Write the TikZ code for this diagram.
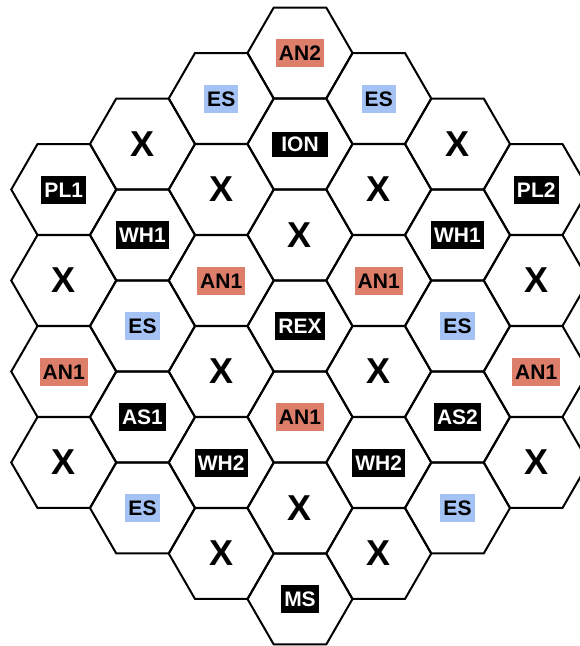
\documentclass[tikz,border=0pt]{standalone}
\usepackage{fontspec}
\setmainfont{Liberation Sans}
\usetikzlibrary{shapes.geometric}
\definecolor{anred}{HTML}{DD7E6B}
\definecolor{esblue}{HTML}{A4C2F4}
\newcommand{\cellx}[1]{63.75+78.75*(#1-1)}
\newcommand{\celly}[1]{53+45.5*#1}

\tikzset{
  cell/.style={draw, regular polygon, regular polygon sides=6, minimum size=105pt,
    inner sep=0pt, outer sep=0pt, line width=2pt},
  tag/.style={font=\bfseries\fontsize{21}{21}\selectfont, text height=15pt,
    text depth=0pt, inner xsep=3pt, inner ysep=6.5pt},
  tagdark/.style={tag, fill=black, text=white},
  tagred/.style={tag, fill=anred, text=black},
  tagblue/.style={tag, fill=esblue, text=black},
  cross/.style={font=\bfseries\fontsize{36}{36}\selectfont}
}

\begin{document}
\begin{tikzpicture}[x=1pt,y=-1pt]
  \useasboundingbox (0,0) rectangle (580,646);
  \clip (0,0) rectangle (580,646);
  % honeycomb, column by column
  \foreach \c/\rows in {1/{3,5,7,9}, 2/{2,4,6,8,10}, 3/{1,3,5,7,9,11},
      4/{0,2,4,6,8,10,12}, 5/{1,3,5,7,9,11}, 6/{2,4,6,8,10}, 7/{3,5,7,9}}{
    \foreach \r in \rows
      \node[cell] (h\c-\r) at ({\cellx{\c}}, {\celly{\r}}) {};
  }
  % black tags
  \foreach \c/\r/\txt in {1/3/PL1, 7/3/PL2, 4/6/REX, 4/12/MS,
      2/4/WH1, 6/4/WH1, 2/8/AS1, 6/8/AS2, 3/9/WH2, 5/9/WH2}
    \node[tagdark] (t\c-\r) at (h\c-\r) {\txt};
  \node[tagdark, inner xsep=9pt, inner ysep=5pt] (t4-2) at (h4-2) {ION};
  % red tags
  \foreach \c/\r/\txt in {4/0/AN2, 3/5/AN1, 5/5/AN1, 1/7/AN1, 7/7/AN1, 4/8/AN1}
    \node[tagred] (t\c-\r) at (h\c-\r) {\txt};
  % blue tags
  \foreach \c/\r in {3/1, 5/1, 2/6, 6/6, 2/10, 6/10}
    \node[tagblue] (t\c-\r) at (h\c-\r) {ES};
  % crosses
  \foreach \c/\r in {2/2, 6/2, 3/3, 5/3, 4/4, 1/5, 7/5, 3/7, 5/7,
      1/9, 7/9, 4/10, 3/11, 5/11}
    \node[cross] (t\c-\r) at (h\c-\r) {X};
\end{tikzpicture}
\end{document}
